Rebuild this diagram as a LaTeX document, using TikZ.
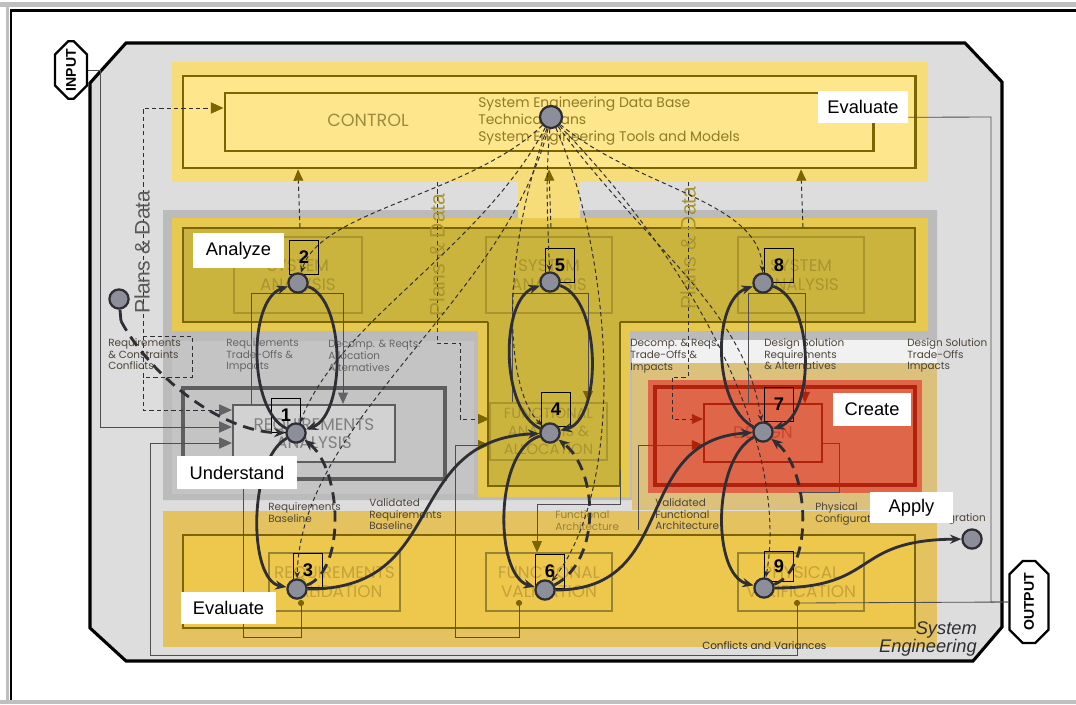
\documentclass[tikz,border=0pt]{standalone}
\usepackage{fontspec}
\setmainfont{Liberation Sans}
\newfontfamily\gothic{Poppins}
\usetikzlibrary{positioning, calc, arrows.meta, shapes.misc}

\definecolor{framegray}{HTML}{DDDDDD}
\definecolor{bandgray}{HTML}{BBBBBB}
\definecolor{ctrlglow}{HTML}{F7DC7A}
\definecolor{ctrlfill}{HTML}{FDE68C}
\definecolor{olive}{HTML}{7C6400}
\definecolor{sysglow}{HTML}{E6C94E}
\definecolor{sysfill}{HTML}{CBB43E}
\definecolor{sysfade}{HTML}{A99530}
\definecolor{reqgray}{HTML}{C4C4C4}
\definecolor{reqbox}{HTML}{D2D2D2}
\definecolor{reqline}{HTML}{5E5E5E}
\definecolor{tanband}{HTML}{DCC17C}
\definecolor{desred}{HTML}{E0664A}
\definecolor{desdark}{HTML}{B0220C}
\definecolor{verglow}{HTML}{E5C260}
\definecolor{verfill}{HTML}{EDC84C}
\definecolor{verfade}{HTML}{C4A23A}
\definecolor{ink}{HTML}{2E2E34}
\definecolor{nodegray}{HTML}{8C8E9A}
\definecolor{labeltext}{HTML}{4C4638}

\tikzset{
  proc/.style={circle, fill=nodegray, draw=ink, line width=1.6pt, minimum size=0.48cm, inner sep=0pt},
  numbox/.style={draw=black, line width=0.5pt, minimum width=0.72cm, minimum height=0.85cm, inner sep=0pt, font=\bfseries\fontsize{13}{13}\selectfont},
  tag/.style={fill=white, inner sep=0pt, font=\fontsize{13}{13}\selectfont},
  lbl/.style={anchor=north west, inner sep=0pt, align=left, text=labeltext, font=\gothic\fontsize{7.4}{8.4}\selectfont},
  fadebox/.style={draw=sysfade, line width=0.8pt, inner sep=0pt, align=center, text=sysfade, font=\gothic\fontsize{12}{13}\selectfont},
  loopline/.style={draw=ink, line width=2pt, -{Stealth[length=8pt,width=6.5pt]}},
  loopdash/.style={loopline, dash pattern=on 8pt off 5pt},
  plan/.style={draw=ink, line width=0.7pt, dash pattern=on 3pt off 2.2pt, -{Stealth[length=5pt,width=4pt]}},
  wire/.style={draw=ink!85, line width=0.6pt},
  feed/.style={wire, -{Triangle[length=9pt,width=8pt,color=ink!75]}},
  feedol/.style={wire, -{Triangle[length=8pt,width=7pt,color=olive]}},
  feedred/.style={wire, -{Triangle[length=8pt,width=7pt,color=desdark]}},
  io/.style={chamfered rectangle, chamfered rectangle xsep=5pt, chamfered rectangle ysep=5pt, draw=black, line width=1.6pt, fill=white, rotate=90, font=\bfseries\fontsize{10}{10}\selectfont, inner sep=1pt},
}

\begin{document}
\begin{tikzpicture}[x=0.025cm, y=-0.025cm]
\useasboundingbox (0,0) rectangle (1076,704);

% window edge
\fill[gray!50] (0,2) rectangle (1076,7);
\fill[gray!50] (0,700) rectangle (1076,704);
\fill[gray!50] (6,7) rectangle (9,700);
\draw[line width=2pt] (1076,10.5) -- (11,10.5) -- (11,700);

% system engineering frame
\draw[line width=2.2pt, fill=framegray] (126,43) -- (965,43) -- (1002,82) -- (1002,627) -- (973,661) -- (126,661) -- (90,628) -- (90,83) -- cycle;

% bands
\fill[ctrlglow] (172,62) rectangle (928,182);
\fill[bandgray] (163,210) -- (937,210) -- (937,340) -- (632,340) -- (632,500) -- (163,500) -- cycle;
\fill[reqgray] (172,341) rectangle (474,494);
\fill[ctrlglow] (518,180) rectangle (580,220);
\fill[sysglow] (172,218) rectangle (928,331);
\fill[sysglow] (478,325) rectangle (630,497);
\draw[olive, line width=2pt, fill=sysfill] (183,228) rectangle (915,322);
\fill[sysfill] (488,320) rectangle (620,486);
\draw[olive, line width=2pt] (488,322) -- (488,486) -- (620,486) -- (620,322);
\fill[white!60!framegray] (632,340) rectangle (937,363);
\fill[tanband] (632,363) rectangle (937,510);
\fill[desred] (648,380) rectangle (922,493);
\draw[desdark, line width=2.2pt] (655,387) rectangle (915,485);
\fill[verglow] (163,511) rectangle (937,647);
\draw[olive, line width=2pt, fill=verfill] (183,535) rectangle (915,628);

% control
\node[draw=olive, line width=2pt, fill=ctrlfill, minimum width=18.3cm, minimum height=2.3cm, inner sep=0] (ctrlbox) at (549,122) {};
\node[draw=olive, line width=2pt, minimum width=16.2cm, minimum height=1.45cm, inner sep=0] (ctrlin) at (549,122) {};
\node[text=olive!75, font=\gothic\fontsize{12.5}{13}\selectfont] (ctrl) at (368,120) {CONTROL};
\node[anchor=west, align=left, inner sep=0, text=olive!85, font=\gothic\fontsize{9.9}{12.2}\selectfont] (ctrldb) at (478,121) {System Engineering Data Base\\Technical Plans\\System Engineering Tools and Models};

% function boxes
\node[fadebox, minimum width=3.2cm, minimum height=1.9cm] (sa1) at (298,275) {SYSTEM\\ANALYSIS};
\node[fadebox, minimum width=3.15cm, minimum height=1.9cm] (sa2) at (549,275) {SYSTEM\\ANALYSIS};
\node[fadebox, minimum width=3.15cm, minimum height=1.9cm] (sa3) at (801,275) {SYSTEM\\ANALYSIS};
\node[draw=reqline, line width=2.2pt, minimum width=6.55cm, minimum height=2.275cm, inner sep=0] (raout) at (314,433.5) {};
\node[fadebox, draw=reqline, line width=1.6pt, fill=reqbox, text=gray, minimum width=4.05cm, minimum height=1.425cm] (ra) at (314,433.5) {REQUIREMENTS\\ANALYSIS};
\node[fadebox, minimum width=2.925cm, minimum height=1.425cm, font=\gothic\fontsize{10.5}{13}\selectfont] (fa) at (548.5,431.5) {FUNCTIONAL\\ANALYSIS \&\\ALLOCATION};
\node[fadebox, draw=desdark, line width=1.4pt, text=desdark!45!desred, minimum width=2.95cm, minimum height=1.45cm] (des) at (763,433) {DESIGN};
\node[fadebox, draw=olive!80, text=verfade, minimum width=3.275cm, minimum height=1.45cm] (rv) at (334.5,582) {REQUIREMENTS\\VALIDATION};
\node[fadebox, draw=olive!80, text=verfade, minimum width=3.15cm, minimum height=1.45cm] (fv) at (549,582) {FUNCTIONAL\\VALIDATION};
\node[fadebox, draw=olive!80, text=verfade, minimum width=3.15cm, minimum height=1.45cm] (pv) at (801,582) {PHYSICAL\\VERIFICATION};

% input / output
\node[io, minimum width=1.38cm, minimum height=0.8cm] (input) at (71,70) {INPUT};
\node[io, minimum width=2.05cm, minimum height=0.98cm] (output) at (1029,602) {OUTPUT};

% junction points
\coordinate (rvdot) at (301,603);
\coordinate (fvdot) at (519,603);
\coordinate (pvdot) at (797,603);

% wires
\draw[feed] (input.south) -- (100,70) -- (100,427) -- (ra.west |- 0,427);
\draw[feed] (pvdot) -- (797,655) -- (150,655) -- (150,443) -- (ra.west |- 0,443);
\draw[feedol] (fvdot) -- (519,637) -- (455,637) -- (455,445) -- (fa.west |- 0,445);
\draw[wire] (rvdot) -- (301,637) -- (243,637) -- (raout.south -| 243,0);
\draw[feedred] (638,530) -- (638,445) -- (des.west |- 0,445);
\draw[wire] (des.east |- 0,443) -- (839,443) -- (839,492) -- (798,492);
\draw[feedol] (620,470) -- (620,504) -- (537,504) -- (fv.north -| 537,0);
\draw[wire] (pvdot) -- (output.north);
\foreach \s/\t/\xa/\xb/\c in {sa1/ra/251/343/ink!75, sa2/fa/512/588/olive, sa3/des/748/805/desdark}
  \draw[wire, -{Triangle[length=8pt,width=7pt,color=\c]}] (\t.north -| \xa,0) -- (\xa,293) -- (\xb,293) -- (\t.north -| \xb,0);
\foreach \d in {rvdot, fvdot, pvdot}
  \fill[olive] (\d) circle (2.2pt);

% plans and data
\draw[plan, {Triangle[length=9pt,width=8pt,color=ink!75]}-{Triangle[length=9pt,width=8pt,color=olive]}] (ra.west |- 0,410) -- (143,410) -- (143,108) -- (ctrlin.west |- 0,108);
\draw[plan, -] (143,336) -- (192,336) -- (192,377) -- (143,377);
\draw[plan, -{Triangle[length=8pt,width=7pt,color=olive]}] (437,182) -- (437,343) -- (460,343) -- (460,419) -- (fa.west |- 0,419);
\draw[plan, -{Triangle[length=8pt,width=7pt,color=desdark]}] (688,182) -- (688,377) -- (672,377) -- (672,419) -- (des.west |- 0,419);
\foreach \s in {sa1, sa2, sa3}
  \draw[plan, -{Triangle[length=8pt,width=7pt,color=olive]}] ($(\s.north)+(2,-9)$) -- (ctrlbox.south -| \s.north);
\node[rotate=90, inner sep=0, text=gray!70!black, font=\fontsize{15}{15}\selectfont] (pd1) at (142,252) {Plans \& Data};
\node[rotate=90, inner sep=0, text=sysfade, font=\fontsize{15}{15}\selectfont] (pd2) at (437,255) {Plans \& Data};
\node[rotate=90, inner sep=0, text=sysfade, font=\fontsize{15}{15}\selectfont] (pd3) at (688,248) {Plans \& Data};

% labels
\node[lbl] (rcc) at (108,338) {Requirements\\\& Constraints\\Conflicts};
\node[lbl, text=gray!80!black] (rto) at (226,338) {Requirements\\Trade-Offs \&\\Impacts};
\node[lbl, text=gray!80!black] (dra) at (328,340) {Decomp. \& Reqts.\\Allocation\\Alternatives};
\node[lbl] (drt) at (630,339) {Decomp. \& Reqs.\\Trade-Offs \&\\Impacts};
\node[lbl] (dsr) at (764,338) {Design Solution\\Requirements\\\& Alternatives};
\node[lbl] (dst) at (907,338) {Design Solution\\Trade-Offs\\Impacts};
\node[lbl] (rb) at (268,502) {Requirements\\Baseline};
\node[lbl] (vrb) at (369,498) {Validated\\Requirements\\Baseline};
\node[lbl, text=olive!80] (fua) at (555,510) {Functional\\Architecture};
\node[lbl] (vfa) at (655,498) {Validated\\Functional\\Architecture};
\node[lbl] (phc) at (815,502) {Physical\\Configuration};
\node[lbl, anchor=north east] (phi) at (986,513) {Integration};
\node[lbl, text=ink] (cv) at (702,641) {Conflicts and Variances};
\node[anchor=south east, align=right, inner sep=0, text=ink, font=\itshape\fontsize{13}{9.5}\selectfont] (seng) at (977,657) {System\\Engineering};

% step numbers and process nodes
\node[numbox] (b1) at (286,415) {1};
\node[numbox] (b2) at (304,257) {2};
\node[numbox] (b3) at (308,570) {3};
\node[numbox] (b4) at (556,409) {4};
\node[numbox] (b5) at (560,265) {5};
\node[numbox] (b6) at (550,571) {6};
\node[numbox] (b7) at (779,404) {7};
\node[numbox] (b8) at (779,265) {8};
\node[numbox, minimum height=0.75cm] (b9) at (779,566) {9};

\node[proc] (n1) at (296,433) {};
\node[proc] (n2) at (298,283) {};
\node[proc] (n3) at (297,589) {};
\node[proc] (n4) at (550,433) {};
\node[proc] (n5) at (550,282) {};
\node[proc] (n6) at (545,590) {};
\node[proc] (n7) at (763,432) {};
\node[proc] (n8) at (763,283) {};
\node[proc] (n9) at (764,588) {};
\node[proc, minimum size=0.55cm] (ntop) at (551,117) {};
\node[proc] (nin) at (119,299) {};
\node[proc] (nout) at (972,539) {};
\coordinate (ntail) at (121,321);

% technical data flows
\foreach \t/\ax/\ay/\bx/\by in {n2/470/195/320/210, n1/480/250/340/320, n3/505/300/300/420,
  n5/545/180/548/230, n4/500/260/505/390, n6/610/250/630/480,
  n8/640/190/760/200, n7/650/250/745/310, n9/690/260/790/440}
  \draw[plan] (ntop) .. controls (\ax,\ay) and (\bx,\by) .. (\t);

% process loops
\draw[ink, line width=2pt] (nin) -- (ntail);
\draw[loopdash] (ntail) .. controls (150,375) and (220,432) .. (n1);
\draw[loopline] (n1) .. controls (248,410) and (248,300) .. (n2);
\draw[loopline] (n2) .. controls (346,300) and (346,415) .. (n1);
\draw[loopline] (n1) .. controls (248,460) and (248,580) .. (n3);
\draw[loopdash] (n3) .. controls (346,570) and (342,470) .. (n1);
\draw[loopline] (n3) .. controls (450,590) and (400,440) .. (n4);
\draw[loopline] (n4) .. controls (500,410) and (500,300) .. (n5);
\draw[loopline] (n5) .. controls (602,300) and (602,420) .. (n4);
\draw[loopline] (n4) .. controls (494,450) and (494,575) .. (n6);
\draw[loopdash] (n6) .. controls (602,560) and (598,470) .. (n4);
\draw[loopline] (n6) .. controls (680,590) and (630,440) .. (n7);
\draw[loopline] (n7) .. controls (712,405) and (712,300) .. (n8);
\draw[loopline] (n8) .. controls (815,300) and (815,415) .. (n7);
\draw[loopline] (n7) .. controls (712,460) and (712,575) .. (n9);
\draw[loopdash] (n9) .. controls (814,570) and (810,470) .. (n7);
\draw[loopline] (n9) .. controls (880,588) and (850,540) .. (nout);

% tags
\node[tag, minimum width=2.25cm, minimum height=0.8cm] (evaltop) at (863,107) {Evaluate};
\node[tag, minimum width=2.275cm, minimum height=0.875cm] (analyze) at (238.5,250.5) {Analyze};
\node[tag, minimum width=3cm, minimum height=0.825cm] (understand) at (237,472.5) {Understand};
\node[tag, minimum width=2.375cm, minimum height=0.8cm] (evalbot) at (228.5,608) {Evaluate};
\node[tag, minimum width=1.95cm, minimum height=0.825cm] (create) at (872,409.5) {Create};
\node[tag, minimum width=2.075cm, minimum height=0.775cm] (apply) at (911.5,507.5) {Apply};
\draw[wire] ($(evaltop.south east)+(0,-6)$) -- (991,117) -- (991,602) -- (output.north);
\end{tikzpicture}
\end{document}
